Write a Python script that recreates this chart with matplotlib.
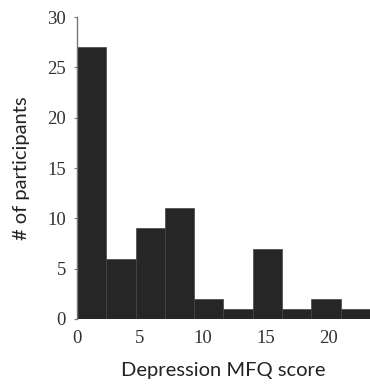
import numpy as np
import matplotlib
matplotlib.use("Agg")
import matplotlib.pyplot as plt

# histogram counts (10 bins from 0 to ~23.3)
counts = [27, 6, 9, 11, 2, 1, 7, 1, 2, 1]
bin_edges = np.linspace(0, 23.33, len(counts) + 1)
x_ticks = [0, 5, 10, 15, 20]
y_ticks = [0, 5, 10, 15, 20, 25, 30]

fig = plt.figure(figsize=(3.7, 3.88), dpi=100)
ax = fig.add_axes([0.208, 0.178, 0.792, 0.778])

widths = np.diff(bin_edges)
ax.bar(bin_edges[:-1], counts, width=widths, align="edge",
       color="#262626", edgecolor="#444444", linewidth=0.5)

ax.set_xlim(0, 23.33)
ax.set_ylim(0, 30)
ax.set_xticks(x_ticks)
ax.set_yticks(y_ticks)

for s in ["top", "right", "bottom"]:
    ax.spines[s].set_visible(False)
ax.spines["left"].set_color("#777777")
ax.spines["left"].set_linewidth(1.0)

ax.tick_params(axis="x", length=0, pad=8)
ax.tick_params(axis="y", length=2, color="#777777", pad=6)
for lab in ax.get_xticklabels() + ax.get_yticklabels():
    lab.set_fontfamily("Liberation Serif")
    lab.set_fontsize(13.5)
    lab.set_color("#333333")

ax.set_xlabel("Depression MFQ score", fontfamily="Lato", fontsize=14.5,
              color="#222222", labelpad=11)
ax.set_ylabel("# of participants", fontfamily="Lato", fontsize=14.5,
              color="#222222", labelpad=12)

fig.savefig("out.png", dpi=100)
